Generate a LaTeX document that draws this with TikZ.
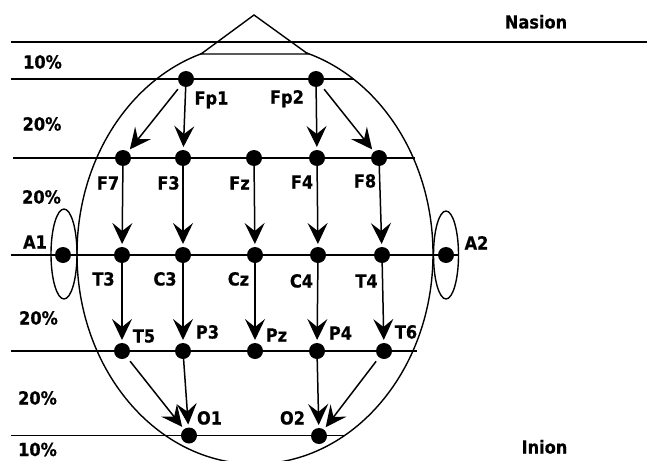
\documentclass[tikz,border=0pt]{standalone}
\usepackage{fontspec}
\newfontfamily\labfont{DejaVu Sans Condensed}[FakeBold=0.6]
\usetikzlibrary{arrows.meta}
\tikzset{
  dot/.style={circle, fill=black, draw=none, minimum size=16pt, inner sep=0pt, outer sep=0pt},
  lab/.style={font=\labfont\bfseries\fontsize{18}{21}\selectfont, inner sep=0pt, text height=13pt, text depth=0pt, anchor=center},
  hline/.style={line width=1.8pt},
  thin/.style={line width=1.4pt},
  arr/.style={line width=1.5pt, -{Stealth[length=21pt, width=20pt, inset=8pt]}, shorten >=3pt},
  darr/.style={arr, shorten <=5pt}
}
\begin{document}
\begin{tikzpicture}[x=1pt, y=-1pt]
\useasboundingbox (0,0) rectangle (647,460);
% head
\draw[thin] (255,254) ellipse [x radius=178pt, y radius=210pt];
% ears
\draw[thin] (64,254) ellipse [x radius=13pt, y radius=45pt];
\draw[thin] (446,255) ellipse [x radius=12.5pt, y radius=44pt];
% nose
\filldraw[thin, fill=white] (201,54) -- (254,15) -- (308,54) -- cycle;
% horizontal lines
\coordinate (L1a) at (11,42);   \coordinate (L1b) at (647,42);
\coordinate (L2a) at (11,79);   \coordinate (L2b) at (353,79);
\coordinate (L3a) at (13,158);  \coordinate (L3b) at (415,158);
\coordinate (L4a) at (11,255);  \coordinate (L4b) at (458,255);
\coordinate (L5a) at (11,351);  \coordinate (L5b) at (417,351);
\coordinate (L6a) at (11,435.5);\coordinate (L6b) at (345,435.5);
\draw[hline] (L1a) -- (L1b);
\draw[hline] (L2a) -- (L2b);
\draw[hline] (L3a) -- (L3b);
\draw[hline] (L4a) -- (L4b);
\draw[hline] (L5a) -- (L5b);
\draw[hline] (L6a) -- (L6b);
% electrodes
\node[dot] (Fp1) at (186,79) {};
\node[dot] (Fp2) at (316,79) {};
\node[dot] (F7) at (123,158) {};
\node[dot] (F3) at (183,158) {};
\node[dot] (Fz) at (254,158) {};
\node[dot] (F4) at (317,158) {};
\node[dot] (F8) at (379,158) {};
\node[dot] (A1) at (63,255) {};
\node[dot] (T3) at (122,255) {};
\node[dot] (C3) at (183,255) {};
\node[dot] (Cz) at (255,255) {};
\node[dot] (C4) at (318,255) {};
\node[dot] (T4) at (382,255) {};
\node[dot] (A2) at (446,255) {};
\node[dot] (T5) at (122,351) {};
\node[dot] (P3) at (183,351) {};
\node[dot] (Pz) at (255,351) {};
\node[dot] (P4) at (317,351) {};
\node[dot] (T6) at (384,351) {};
\node[dot] (O1) at (189,435.5) {};
\node[dot] (O2) at (319,436) {};
% arrows
\draw[darr] (Fp1) -- (F7);
\draw[arr] (Fp1) -- (F3);
\draw[arr] (Fp2) -- (F4);
\draw[darr] (Fp2) -- (F8);
\draw[arr] (F7) -- (T3);
\draw[arr] (F3) -- (C3);
\draw[arr] (Fz) -- (Cz);
\draw[arr] (F4) -- (C4);
\draw[arr] (F8) -- (T4);
\draw[arr] (T3) -- (T5);
\draw[arr] (C3) -- (P3);
\draw[arr] (Cz) -- (Pz);
\draw[arr] (C4) -- (P4);
\draw[arr] (T4) -- (T6);
\draw[darr] (T5) -- (O1);
\draw[arr] (P3) -- (O1);
\draw[arr] (P4) -- (O2);
\draw[darr] (T6) -- (O2);
% electrode labels
\node[lab] (lFp1) at (211.5,98) {Fp1};
\node[lab] (lFp2) at (287,97) {Fp2};
\node[lab] (lF7) at (108,183) {F7};
\node[lab] (lF3) at (168.5,183) {F3};
\node[lab] (lFz) at (239.5,183) {Fz};
\node[lab] (lF4) at (302,182) {F4};
\node[lab] (lF8) at (365,181) {F8};
\node[lab] (lA1) at (35,242) {A1};
\node[lab] (lA2) at (476.5,243) {A2};
\node[lab] (lT3) at (103.5,279) {T3};
\node[lab] (lC3) at (165,279) {C3};
\node[lab] (lCz) at (238.5,279) {Cz};
\node[lab] (lC4) at (301.5,281) {C4};
\node[lab] (lT4) at (366.5,281) {T4};
\node[lab] (lT5) at (144,336) {T5};
\node[lab] (lP3) at (207.5,332) {P3};
\node[lab] (lPz) at (276.5,335) {Pz};
\node[lab] (lP4) at (340.5,333) {P4};
\node[lab] (lT6) at (406,332) {T6};
\node[lab] (lO1) at (209.5,418) {O1};
\node[lab] (lO2) at (292.5,418) {O2};
% percentages
\node[lab] (p1) at (42.5,62) {10\%};
\node[lab] (p2) at (42,124) {20\%};
\node[lab] (p3) at (41.5,197) {20\%};
\node[lab] (p4) at (38.5,318) {20\%};
\node[lab] (p5) at (37.5,398) {20\%};
\node[lab] (p6) at (37.5,449.5) {10\%};
\node[lab] (nasion) at (536,22) {Nasion};
\node[lab] (inion) at (544.5,447) {Inion};
\end{tikzpicture}
\end{document}
